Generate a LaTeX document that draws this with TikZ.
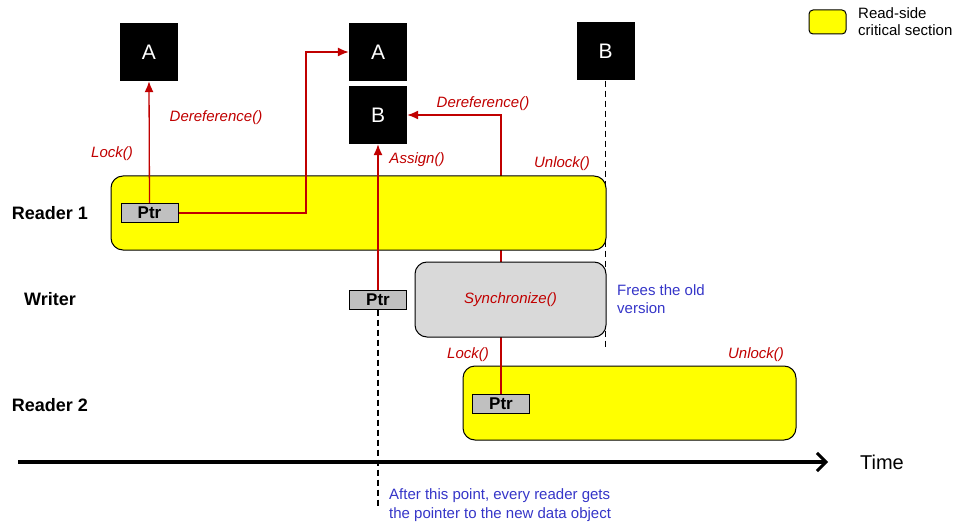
\documentclass[tikz,border=0pt]{standalone}
\usepackage{fontspec}
\setmainfont{Liberation Sans}
\usetikzlibrary{arrows.meta}
\definecolor{rred}{HTML}{C00000}
\definecolor{bblue}{HTML}{3535C8}
\definecolor{ptrgray}{HTML}{C0C0C0}
\definecolor{syncgray}{HTML}{D9D9D9}
\definecolor{crityellow}{HTML}{FFFF00}
\begin{document}
\begin{tikzpicture}[x=1pt,y=-1pt,
  obj/.style={fill=black, text=white, minimum width=58pt, minimum height=58pt, inner sep=0pt, font=\fontsize{21}{23}\selectfont},
  ptr/.style={draw, fill=ptrgray, line width=1pt, minimum width=57pt, minimum height=19pt, inner sep=0pt, font=\bfseries\fontsize{17}{19}\selectfont},
  crit/.style={draw, fill=crityellow, rounded corners=12pt, line width=1pt, inner sep=0pt},
  syncbox/.style={draw, fill=syncgray, rounded corners=12pt, line width=1pt, inner sep=0pt, text=rred, font=\itshape\fontsize{15}{17}\selectfont},
  lbl/.style={text=rred, font=\itshape\fontsize{15}{17}\selectfont, inner sep=0pt},
  role/.style={font=\bfseries\fontsize{18}{20}\selectfont, inner sep=0pt},
  note/.style={text=bblue, font=\fontsize{15}{18.5}\selectfont, align=left, inner sep=0pt, anchor=west},
  rarrow/.style={draw=rred, line width=1.3pt, -{Latex[length=11pt,width=9pt]}},
  dline/.style={draw=black, line width=1.2pt, dash pattern=on 6pt off 4pt}
]
\useasboundingbox (0,0) rectangle (964,524);

% data objects
\node[obj] (A1) at (149,52) {A};
\node[obj] (A2) at (378,52) {A};
\node[obj] (B1) at (378,115) {B};
\node[obj] (B2) at (605.5,51.5) {B};

\coordinate (bend2) at (501,115);
\coordinate (bend1) at (306,52);
\coordinate (d1end) at (605.5,350);
\coordinate (d2end) at (378,506);

% dashed line below old B
\draw[dline] (B2.south) -- (d1end);

% Reader 2 critical section and its pointer
\node[crit, minimum width=333pt, minimum height=74pt] (R2) at (629.5,403) {};
\node[ptr] (P3) at (501,403.5) {Ptr};
\draw[rarrow] (P3.north) -- (bend2) -- (B1.east);

% Reader 1 critical section and Synchronize
\node[crit, minimum width=495pt, minimum height=74pt] (R1) at (358.5,213) {};
\node[syncbox, minimum width=191pt, minimum height=75pt] (S) at (510.5,299.5) {Synchronize()};

% pointers
\node[ptr] (P1) at (149.5,213) {Ptr};
\node[ptr] (P2) at (378,299.5) {Ptr};

% red connectors
\draw[rarrow] (P1.north) -- (A1.south);
\draw[rarrow] (P1.east) -| (bend1) -- (A2.west);
\draw[rarrow] (P2.north) -- (B1.south);

% dashed line below writer Ptr
\draw[dline] (P2.south) -- (d2end);

% labels
\node[lbl] (l1) at (112,154) {Lock()};
\node[lbl] (l2) at (216,118) {Dereference()};
\node[lbl] (l3) at (483,104) {Dereference()};
\node[lbl] (l4) at (417,160) {Assign()};
\node[lbl] (l5) at (562,164) {Unlock()};
\node[lbl] (l6) at (468,355) {Lock()};
\node[lbl] (l7) at (756,355) {Unlock()};

% roles
\node[role] (r1) at (50,213) {Reader 1};
\node[role] (r2) at (50,299) {Writer};
\node[role] (r3) at (50,405) {Reader 2};

% notes
\node[note] (n1) at (617,299) {Frees the old\\version};
\node[note] (n2) at (389,505) {After this point, every reader gets\\the pointer to the new data object};

% time axis
\coordinate (t0) at (18,462);
\coordinate (t1) at (828,462);
\draw[line width=3.5pt, -{Straight Barb[length=9pt,width=18pt,line width=3pt]}] (t0) -- (t1);
\node[font=\fontsize{20}{22}\selectfont, inner sep=0pt] (time) at (882,462) {Time};

% legend
\node[draw, fill=crityellow, rounded corners=4pt, line width=1pt, minimum width=37pt, minimum height=24pt, inner sep=0pt] (leg) at (827.5,22) {};
\node[font=\fontsize{15}{17}\selectfont, align=left, anchor=west, inner sep=0pt] (legt) at (858,22) {Read-side\\critical section};
\end{tikzpicture}
\end{document}
